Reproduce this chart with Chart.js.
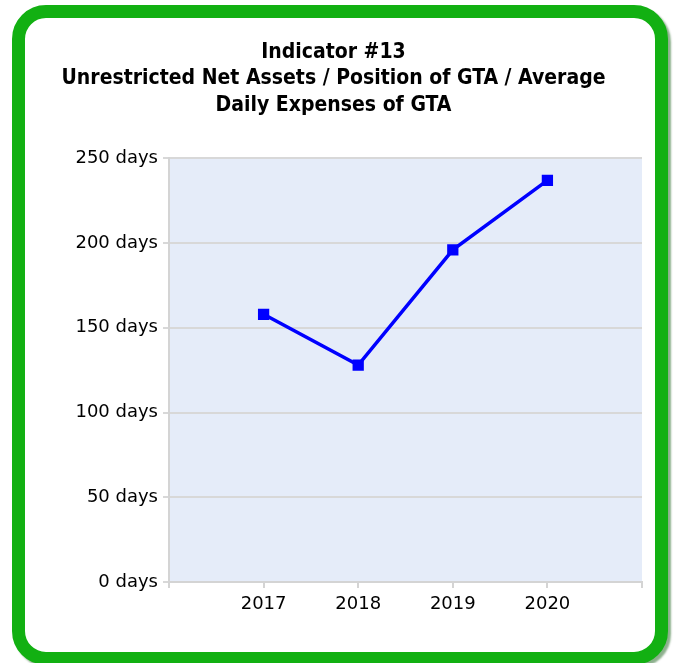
<!DOCTYPE html>
<html>
<head>
<meta charset="utf-8">
<script src="https://cdn.jsdelivr.net/npm/chart.js@4"></script>
<style>
  html, body { margin: 0; padding: 0; background: #ffffff; }
  #frame {
    position: absolute; left: 12px; top: 5px;
    width: 630px; height: 634px;
    border: 13px solid #12b012;
    border-radius: 34px;
    box-shadow: 3px 3px 2px rgba(0, 80, 0, 0.45);
    background: #ffffff;
  }
  #wrap { position: absolute; left: 0; top: 0; width: 630px; height: 634px; }
</style>
</head>
<body>
<div id="frame"><div id="wrap"><canvas id="lineChart"></canvas></div></div>
<script>
// chart data
const years = [2017, 2018, 2019, 2020];
const daysValues = [158, 128, 196, 237];
const yTicks = [0, 50, 100, 150, 200, 250];

const points = years.map((yr, i) => ({ x: yr, y: daysValues[i] }));

// fill the plot area light blue
const plotBg = {
  id: 'plotBg',
  beforeDraw(chart) {
    const { ctx, chartArea: a } = chart;
    ctx.save();
    ctx.fillStyle = '#e5ecf9';
    ctx.fillRect(a.left, a.top, a.right - a.left, a.bottom - a.top);
    ctx.restore();
  }
};

const config = {
  type: 'line',
  data: {
    datasets: [{
      label: 'Days',
      data: points,
      borderColor: '#0000ff',
      backgroundColor: '#0000ff',
      borderWidth: 3.5,
      pointStyle: 'rect',
      pointRadius: 5.5,
      pointHoverRadius: 5.5,
      tension: 0
    }]
  },
  options: {
    responsive: true,
    maintainAspectRatio: false,
    animation: false,
    layout: { padding: { top: 21, left: 0, right: 13, bottom: 0 } },
    plugins: {
      legend: { display: false },
      tooltip: { enabled: false },
      title: {
        display: true,
        text: ['Indicator #13', 'Unrestricted Net Assets / Position of GTA / Average', 'Daily Expenses of GTA'],
        color: '#000000',
        font: { family: 'DejaVu Sans Condensed, DejaVu Sans', size: 21, weight: 'bold', lineHeight: 1.26 },
        padding: { top: 0, bottom: 40 }
      }
    },
    scales: {
      x: {
        type: 'linear',
        min: 2016,
        max: 2021,
        ticks: {
          stepSize: 1,
          color: '#000000',
          font: { family: 'DejaVu Sans', size: 18 },
          padding: 6,
          callback: v => years.includes(v) ? String(v) : ''
        },
        grid: { drawOnChartArea: false, drawTicks: true, tickLength: 6, color: '#d4d4d4', lineWidth: 2 },
        border: { color: '#d4d4d4', width: 2 },
        afterFit: s => { s.height = 70; }
      },
      y: {
        min: 0,
        max: 250,
        afterBuildTicks: s => { s.ticks = yTicks.map(v => ({ value: v })); },
        ticks: {
          color: '#000000',
          font: { family: 'DejaVu Sans', size: 18 },
          padding: 5,
          callback: v => v + ' days'
        },
        grid: { color: '#d8d8d8', lineWidth: 2, tickLength: 6 },
        border: { color: '#d4d4d4', width: 2 },
        afterFit: s => { s.width = 144; }
      }
    }
  },
  plugins: [plotBg]
};

var ctx = document.getElementById('lineChart').getContext('2d');
var myChart = new Chart(ctx, config);
</script>
</body>
</html>
